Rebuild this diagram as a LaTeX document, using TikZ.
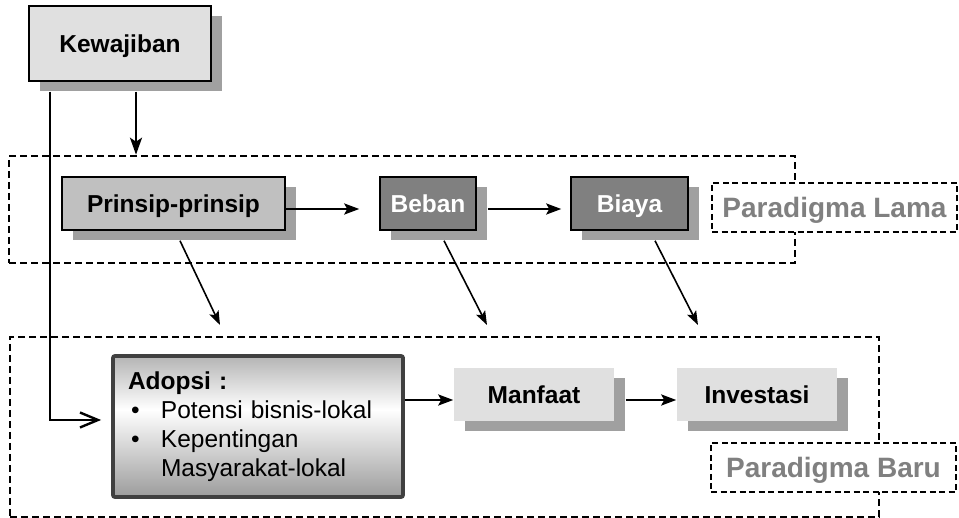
\documentclass[tikz,border=0pt]{standalone}
\usepackage{fontspec}
\setmainfont{Liberation Sans}
\usetikzlibrary{arrows.meta,shadows}
\definecolor{lightbox}{HTML}{E0E0E0}
\definecolor{midbox}{HTML}{C0C0C0}
\definecolor{darkbox}{HTML}{808080}
\definecolor{shadowgray}{HTML}{A0A0A0}
\definecolor{labelgray}{HTML}{808080}
\definecolor{adoptborder}{HTML}{404040}
\definecolor{adopttop}{HTML}{B4B4B4}
\definecolor{adoptbottom}{HTML}{9C9C9C}
\pgfdeclareverticalshading{adoptshade}{100bp}{color(0bp)=(adoptbottom); color(25bp)=(adoptbottom); color(56bp)=(white); color(75bp)=(adopttop); color(100bp)=(adopttop)}
\newcommand{\dgboxfont}{\bfseries\fontsize{24.5}{29}\selectfont}
\newcommand{\dgtextfont}{\fontsize{24.5}{29}\selectfont}
\newcommand{\dglabelfont}{\bfseries\fontsize{28}{32}\selectfont}
\tikzset{
  box/.style={draw=black, line width=1.5pt, minimum height=53pt, font=\dgboxfont, inner sep=0pt, text height=17.5pt, text depth=0pt},
  shadowed/.style={drop shadow={shadow xshift=11pt, shadow yshift=-10pt, fill=shadowgray, opacity=1}},
  dashbox/.style={draw=black, line width=2.6pt, dash pattern=on 7pt off 4pt, inner sep=0pt},
  labelbox/.style={draw=black, fill=white, line width=2.2pt, dash pattern=on 6pt off 3.5pt, minimum width=245pt, minimum height=49pt, inner sep=0pt, text height=20pt, text depth=0pt, text=labelgray, font=\dglabelfont},
  adoptbox/.style={draw=adoptborder, line width=3.8pt, rounded corners=2pt, shading=adoptshade, minimum width=290pt, minimum height=141pt, text width=260pt, inner xsep=15pt, inner ysep=0pt, align=left, font=\dgtextfont},
  mainline/.style={line width=2.4pt, draw=black},
  thinline/.style={line width=1.6pt, draw=black},
  filledtip/.style={-{Stealth[length=15pt,width=11pt,inset=3pt]}},
  downtip/.style={-{Stealth[length=17pt,width=12pt,inset=4pt]}},
  diagtip/.style={-{Stealth[length=14pt,width=10pt,inset=3pt]}},
  barbtip/.style={-{Straight Barb[length=18pt,width=15pt]}}
}
\begin{document}
\begin{tikzpicture}[x=1pt,y=-1pt]
\useasboundingbox (0,0) rectangle (959,518);
% group frames
\node[dashbox, minimum width=786pt, minimum height=107pt] (old) at (402,209.5) {};
\node[dashbox, minimum width=869pt, minimum height=180pt] (new) at (444.5,427) {};
% labels
\node[labelbox] (lama) at (834.5,207.5) {Paradigma Lama};
\node[labelbox] (baru) at (833.5,467.5) {Paradigma Baru};
% boxes
\node[box, fill=lightbox, minimum width=182pt, minimum height=75pt, shadowed] (kew) at (120,43.5) {Kewajiban};
\node[box, fill=midbox, minimum width=223pt, shadowed] (pri) at (173.5,203.5) {Prinsip-prinsip};
\node[box, fill=darkbox, text=white, minimum width=96pt, shadowed] (beb) at (428,203.5) {Beban};
\node[box, fill=darkbox, text=white, minimum width=117pt, shadowed] (bia) at (629.5,203.5) {Biaya};
\node[adoptbox] (ado) at (258,426.5) {\textbf{Adopsi :}\\
\hspace*{3pt}\makebox[30pt][l]{\textbullet}Potensi bisnis-lokal\\
\hspace*{3pt}\makebox[30pt][l]{\textbullet}Kepentingan\\
\hspace*{33pt}Masyarakat-lokal};
\node[box, draw=none, fill=lightbox, minimum width=160pt, shadowed] (man) at (534,394.5) {Manfaat};
\node[box, draw=none, fill=lightbox, minimum width=160pt, shadowed] (inv) at (757,394.5) {Investasi};
% coordinates
\coordinate (d1) at (220,325);
\coordinate (d2) at (487,325);
\coordinate (d3) at (698,325);
\path ([yshift=-5.5pt]man.west) coordinate (manin);
% connectors
\draw[mainline, downtip] ([xshift=16pt,yshift=-10pt]kew.south) -- ([xshift=16pt]kew.south |- old.north);
\draw[mainline, barbtip] ([xshift=22pt,yshift=-10pt]kew.south west) |- ([xshift=-10pt,yshift=6.5pt]ado.west);
\draw[mainline, filledtip] ([yshift=-5.5pt]pri.east) -- ([xshift=-20pt,yshift=-5.5pt]beb.west);
\draw[mainline, filledtip] ([xshift=11pt,yshift=-5.5pt]beb.east) -- ([xshift=-9pt,yshift=-5.5pt]bia.west);
\draw[mainline, filledtip] (ado.east |- manin) -- (manin);
\draw[mainline, filledtip] ([xshift=11pt,yshift=-5.5pt]man.east) -- ([yshift=-5.5pt]inv.west);
\draw[thinline, diagtip] ([xshift=6.5pt,yshift=-10pt]pri.south) -- (d1);
\draw[thinline, diagtip] ([xshift=16pt,yshift=-10pt]beb.south) -- (d2);
\draw[thinline, diagtip] ([xshift=25.5pt,yshift=-10pt]bia.south) -- (d3);
\end{tikzpicture}
\end{document}
